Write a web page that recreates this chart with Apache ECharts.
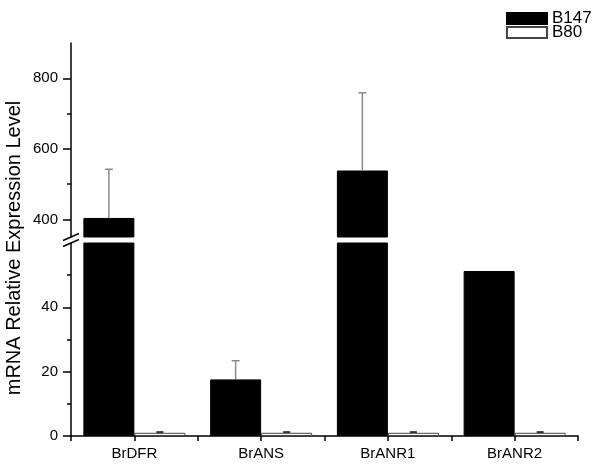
<!DOCTYPE html>
<html>
<head>
<meta charset="utf-8">
<script src="https://cdn.jsdelivr.net/npm/echarts@6/dist/echarts.min.js"></script>
<style>html,body{margin:0;padding:0;background:#fff}#c{width:604px;height:467px}</style>
</head>
<body>
<div id="c"></div>
<script>
const categories = ['BrDFR', 'BrANS', 'BrANR1', 'BrANR2'];
const b147 = [404, 17.6, 538.5, 51.3];
const b147Err = [138, 5.8, 220.5, 0];
const b80 = [1.0, 1.0, 1.0, 1.0];
const b80Err = [0.2, 0.2, 0.2, 0.2];
const upperLabels = [400, 600, 800];
const upperMinor = [500, 700];
const lowerLabels = [0, 20, 40];
const lowerMinor = [10, 30, 50];
const upperRange = [350, 900];
const lowerRange = [0, 60];

const FONT = '"Liberation Sans", Arial, sans-serif';
const BAR_W = 51;
const chart = echarts.init(document.getElementById('c'), null, {renderer: 'canvas'});

function barData(vals) { return vals.map((v, i) => [i + 1, v]); }
function errData(vals, errs) { return vals.map((v, i) => [i + 1, v, errs[i]]); }

function errSeries(name, gi, vals, errs, dir, color, cap, lw) {
  return {
    type: 'custom', name: name, xAxisIndex: gi, yAxisIndex: gi, clip: true, z: 5,
    data: errData(vals, errs),
    renderItem: function (params, api) {
      const x = api.value(0), y = api.value(1), e = api.value(2);
      if (!e) return null;
      const p0 = api.coord([x, y]);
      const p1 = api.coord([x, y + e]);
      const cx = p0[0] + dir * BAR_W / 2;
      return {
        type: 'group',
        children: [
          {type: 'line', shape: {x1: cx, y1: p0[1], x2: cx, y2: p1[1]}, style: {stroke: color, lineWidth: lw}},
          {type: 'line', shape: {x1: cx - cap / 2, y1: p1[1], x2: cx + cap / 2, y2: p1[1]}, style: {stroke: color, lineWidth: lw}}
        ]
      };
    }
  };
}

const axisLineStyle = {color: '#000', width: 1.5};
const grids = [
  {left: 71, top: 43, width: 507, height: 194, outerBoundsMode: 'none', containLabel: false},
  {left: 71, top: 243, width: 507, height: 193, outerBoundsMode: 'none', containLabel: false}
];

const option = {
  backgroundColor: '#fff',
  animation: false,
  grid: grids,
  legend: {
    orient: 'vertical', left: 506, top: 10, padding: 0, itemWidth: 40, itemHeight: 11, itemGap: -3,
    icon: 'rect', selectedMode: false, data: ['B147', 'B80'],
    textStyle: {fontSize: 17, fontFamily: FONT, color: '#000'}
  },
  xAxis: [
    {type: 'value', gridIndex: 0, min: 0.5, max: 4.5, show: false, splitLine: {show: false}},
    {type: 'value', gridIndex: 1, min: 0.5, max: 4.5, interval: 0.5,
      axisLine: {show: true, lineStyle: axisLineStyle},
      axisTick: {show: true, length: 5, lineStyle: {color: '#000', width: 1.5}},
      splitLine: {show: false},
      axisLabel: {
        margin: 10, fontSize: 15, fontFamily: FONT, color: '#000',
        showMinLabel: true, showMaxLabel: true,
        formatter: v => (Math.abs(v - Math.round(v)) < 1e-6 && v >= 1 && v <= 4) ? categories[Math.round(v) - 1] : ''
      }
    }
  ],
  yAxis: [
    {type: 'value', gridIndex: 0, position: 'left', min: upperRange[0], max: upperRange[1],
      axisLine: {show: true, lineStyle: axisLineStyle},
      axisTick: {show: true, length: 8, customValues: upperLabels, lineStyle: {color: '#000', width: 1.5}},
      axisLabel: {customValues: upperLabels, margin: 13, fontSize: 15, fontFamily: FONT, color: '#000'},
      splitLine: {show: false}},
    {type: 'value', gridIndex: 1, position: 'left', min: lowerRange[0], max: lowerRange[1],
      axisLine: {show: true, lineStyle: axisLineStyle},
      axisTick: {show: true, length: 8, customValues: lowerLabels, lineStyle: {color: '#000', width: 1.5}},
      axisLabel: {customValues: lowerLabels, margin: 13, fontSize: 15, fontFamily: FONT, color: '#000'},
      splitLine: {show: false}},
    {type: 'value', gridIndex: 0, position: 'left', offset: 0, min: upperRange[0], max: upperRange[1],
      axisLine: {show: false},
      axisTick: {show: true, length: 4, customValues: upperMinor, lineStyle: {color: '#000', width: 1.5}},
      axisLabel: {show: false}, splitLine: {show: false}},
    {type: 'value', gridIndex: 1, position: 'left', offset: 0, min: lowerRange[0], max: lowerRange[1],
      axisLine: {show: false},
      axisTick: {show: true, length: 4, customValues: lowerMinor, lineStyle: {color: '#000', width: 1.5}},
      axisLabel: {show: false}, splitLine: {show: false}}
  ],
  series: [0, 1].flatMap(gi => [
    {type: 'bar', name: 'B147', xAxisIndex: gi, yAxisIndex: gi, data: barData(b147), barWidth: BAR_W, barGap: '0%', clip: true,
      itemStyle: {color: '#000', borderColor: '#000', borderWidth: 1}},
    {type: 'bar', name: 'B80', xAxisIndex: gi, yAxisIndex: gi, data: barData(b80), barWidth: BAR_W, barGap: '0%', clip: true,
      itemStyle: {color: '#fff', borderColor: '#444', borderWidth: 1}},
    errSeries('errB147_' + gi, gi, b147, b147Err, -1, '#8a8a8a', 8, 1.5),
    errSeries('errB80_' + gi, gi, b80, b80Err, 1, '#333', 7, 2)
  ])
};
chart.setOption(option);

// axis-break slashes and y-axis title
const pUp = chart.convertToPixel({xAxisIndex: 0, yAxisIndex: 0}, [0.5, upperRange[0]]);
const pLo = chart.convertToPixel({xAxisIndex: 1, yAxisIndex: 1}, [0.5, lowerRange[1]]);
const ax = pUp[0];
function slash(y) {
  return {type: 'line', shape: {x1: ax - 8, y1: y + 3.5, x2: ax + 8, y2: y - 3.5}, style: {stroke: '#000', lineWidth: 1.5}, z: 100};
}
chart.setOption({
  graphic: [
    slash(pUp[1]), slash(pLo[1]),
    {type: 'text', x: 14, y: (pUp[1] + pLo[1]) / 2 + 8, rotation: Math.PI / 2,
      style: {text: 'mRNA Relative Expression Level', fontSize: 20, fontFamily: FONT, fill: '#000', align: 'center', verticalAlign: 'middle'}}
  ]
});
</script>
</body>
</html>
